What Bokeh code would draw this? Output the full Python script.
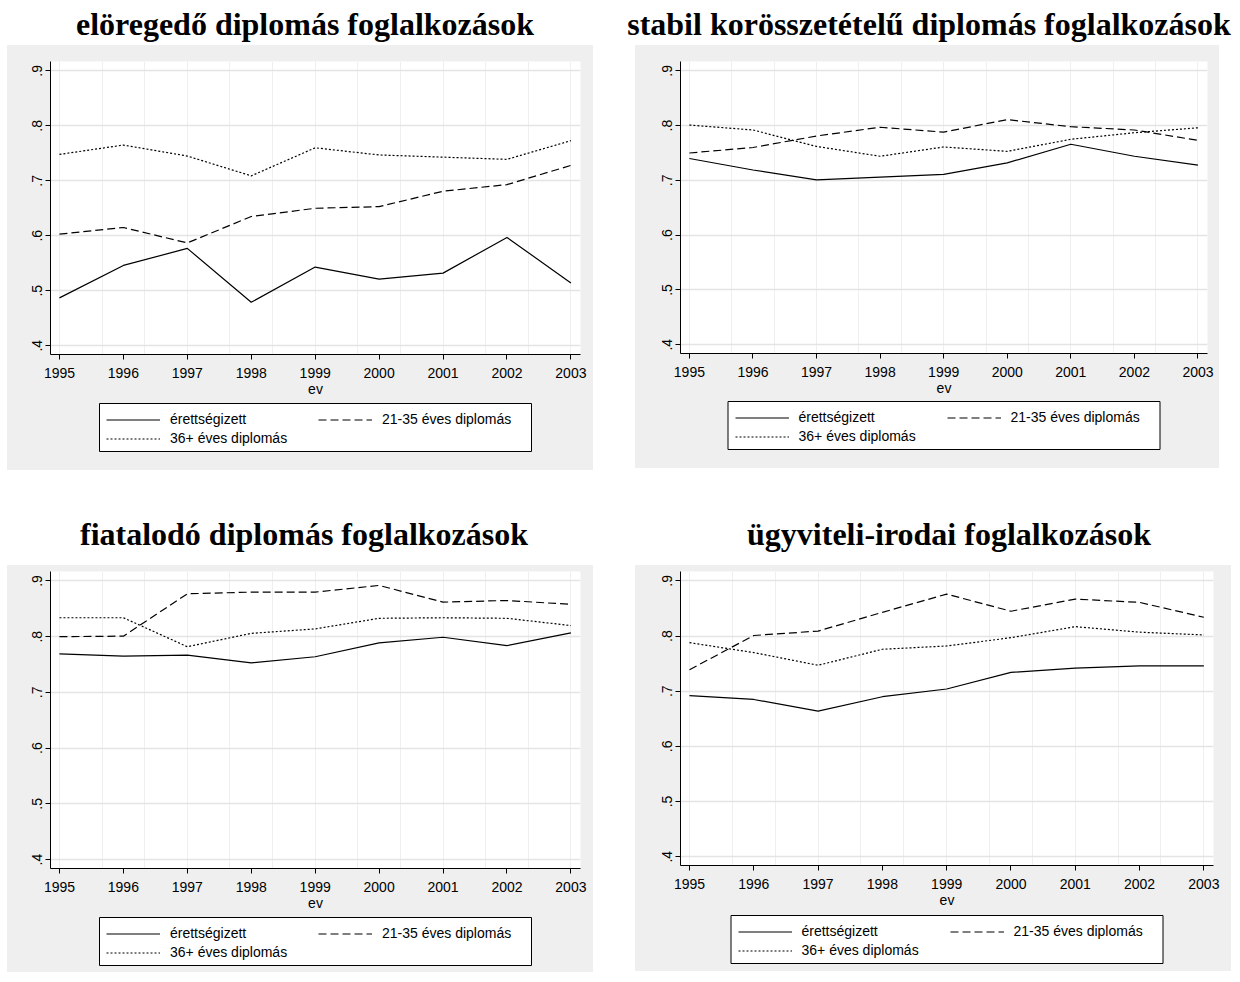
from bokeh.plotting import figure
from bokeh.models import (Range1d, FixedTicker, CustomJSTickFormatter, Legend,
                          LegendItem, Spacer, Div, BoxAnnotation)
from bokeh.layouts import column, row
from bokeh.embed import file_html
from bokeh.resources import INLINE

# ---------------- data ----------------
years = [1995, 1996, 1997, 1998, 1999, 2000, 2001, 2002, 2003]
series_labels = ["érettségizett", "21-35 éves diplomás", "36+ éves diplomás"]
y_ticks = [0.4, 0.5, 0.6, 0.7, 0.8, 0.9]
x_axis_label = "ev"

titles = ["elöregedő diplomás foglalkozások",
          "stabil korösszetételű diplomás foglalkozások",
          "fiatalodó diplomás foglalkozások",
          "ügyviteli-irodai foglalkozások"]

p1_erettsegizett = [0.487, 0.546, 0.577, 0.479, 0.543, 0.521, 0.532, 0.597, 0.514]
p1_fiatal_dipl   = [0.603, 0.615, 0.587, 0.635, 0.650, 0.653, 0.681, 0.693, 0.728]
p1_idos_dipl     = [0.748, 0.765, 0.745, 0.709, 0.760, 0.747, 0.743, 0.739, 0.773]
p2_erettsegizett = [0.740, 0.719, 0.701, 0.706, 0.711, 0.732, 0.766, 0.744, 0.728]
p2_fiatal_dipl   = [0.750, 0.760, 0.781, 0.797, 0.788, 0.811, 0.798, 0.792, 0.773]
p2_idos_dipl     = [0.801, 0.792, 0.762, 0.744, 0.761, 0.753, 0.775, 0.787, 0.796]
p3_erettsegizett = [0.769, 0.765, 0.767, 0.753, 0.764, 0.789, 0.799, 0.784, 0.807]
p3_fiatal_dipl   = [0.800, 0.801, 0.877, 0.880, 0.880, 0.892, 0.862, 0.865, 0.858]
p3_idos_dipl     = [0.834, 0.834, 0.782, 0.806, 0.814, 0.833, 0.834, 0.833, 0.820]
p4_erettsegizett = [0.692, 0.685, 0.664, 0.690, 0.704, 0.734, 0.742, 0.746, 0.746]
p4_fiatal_dipl   = [0.739, 0.801, 0.809, 0.843, 0.876, 0.845, 0.867, 0.861, 0.834]
p4_idos_dipl     = [0.788, 0.770, 0.747, 0.776, 0.782, 0.797, 0.817, 0.807, 0.802]

panel_series = [
    (p1_erettsegizett, p1_fiatal_dipl, p1_idos_dipl),
    (p2_erettsegizett, p2_fiatal_dipl, p2_idos_dipl),
    (p3_erettsegizett, p3_fiatal_dipl, p3_idos_dipl),
    (p4_erettsegizett, p4_fiatal_dipl, p4_idos_dipl),
]

GRAY = "#efefef"
SANS = "Liberation Sans"
FS = "14px"
dashes = ["solid", "8 4", "2 2"]

# plot part: (width, height, left, right, top, bottom)
plot_geom = [
    (586, 356, 43, 13, 16, 47),
    (584, 355, 45, 12, 16, 47),
    (586, 350, 43, 13, 6, 47),
    (596, 347, 45, 18, 6, 47),
]
# legend strip: (height, top, bottom); left/right same as the plot part
leg_geom = [
    (69, 1, 18),
    (68, 0, 18),
    (57, 1, 6),
    (59, 2, 7),
]
LEG_W = 432
LEG_FRAME_H = 50

x_grid_ticks = [years[0] + k * 2.0 / 3.0 for k in range(13)]


def style_legend(leg, margin):
    leg.label_text_font = SANS
    leg.label_text_font_size = FS
    leg.label_text_color = "black"
    leg.glyph_width = 54
    leg.glyph_height = 15
    leg.label_height = 15
    leg.label_standoff = 10
    leg.spacing = 6
    leg.padding = 6
    leg.margin = margin
    leg.border_line_color = None
    leg.background_fill_alpha = 0.0


def make_panel(idx):
    w, h, bl, br, bt, bb = plot_geom[idx]
    p = figure(width=w, height=h, output_backend="svg", toolbar_location=None,
               x_range=Range1d(1994.86, 2003.15), y_range=Range1d(0.384, 0.917),
               min_border_left=bl, min_border_right=br,
               min_border_top=bt, min_border_bottom=bb)
    p.border_fill_color = GRAY
    p.background_fill_color = "white"
    p.outline_line_color = None

    for vals, dash in zip(panel_series[idx], dashes):
        p.line(years, vals, line_color="black", line_width=1.2, line_dash=dash)

    xa = p.xaxis[0]
    xa.ticker = FixedTicker(ticks=years)
    xa.axis_label = x_axis_label
    ya = p.yaxis[0]
    ya.ticker = FixedTicker(ticks=y_ticks)
    ya.formatter = CustomJSTickFormatter(code="return tick.toFixed(1).replace(/^0/, '');")
    ya.major_label_orientation = "vertical"
    for ax in (xa, ya):
        ax.axis_line_color = "black"
        ax.major_tick_line_color = "black"
        ax.major_tick_out = 5
        ax.major_tick_in = 0
        ax.minor_tick_line_color = None
        ax.major_label_text_font = SANS
        ax.major_label_text_font_size = FS
        ax.major_label_text_color = "black"
        ax.axis_label_text_font = SANS
        ax.axis_label_text_font_size = FS
        ax.axis_label_text_font_style = "normal"
        ax.axis_label_text_color = "black"
    xa.major_label_standoff = 8
    xa.axis_label_standoff = 0
    ya.major_label_standoff = 3

    p.ygrid.grid_line_color = "#e4e4e4"
    p.ygrid.grid_line_width = 1.6
    p.xgrid.ticker = FixedTicker(ticks=x_grid_ticks)
    p.xgrid.grid_line_color = "#efefef"

    # ---- legend strip below the plot ----
    lh, lt, lb = leg_geom[idx]
    fw = w - bl - br
    lf = figure(width=w, height=lh, output_backend="svg", toolbar_location=None,
                x_range=Range1d(0, fw), y_range=Range1d(0, LEG_FRAME_H),
                x_axis_type=None, y_axis_type=None,
                min_border_left=bl, min_border_right=br,
                min_border_top=lt, min_border_bottom=lb)
    lf.border_fill_color = GRAY
    lf.background_fill_color = GRAY
    lf.outline_line_color = None

    # legend renderers (data lie outside this strip's ranges, so only the
    # legend samples are visible)
    rends = [lf.line(years, vals, line_color="black", line_width=1.2, line_dash=dash)
             for vals, dash in zip(panel_series[idx], dashes)]

    bx = (fw - LEG_W) / 2.0
    lf.add_layout(BoxAnnotation(left=bx, right=bx + LEG_W, bottom=1, top=LEG_FRAME_H - 1,
                                fill_color="white", fill_alpha=1.0,
                                line_color="black", line_alpha=1.0, line_width=1))

    leg_a = Legend(items=[LegendItem(label=series_labels[0], renderers=[rends[0]]),
                          LegendItem(label=series_labels[1], renderers=[rends[1]])],
                   orientation="horizontal", location="top_center", label_width=142)
    style_legend(leg_a, 9)
    leg_b = Legend(items=[LegendItem(label=series_labels[2], renderers=[rends[2]])],
                   orientation="horizontal", location="bottom_center", label_width=354)
    style_legend(leg_b, 6)
    lf.add_layout(leg_a, "center")
    lf.add_layout(leg_b, "center")

    return column(p, lf, styles={"background-color": GRAY})


def title_div(text, width, height, inner_w, inner_left, top):
    html = ('<div style="font-family:\'Liberation Serif\';font-weight:bold;'
            'font-size:32px;line-height:34px;white-space:nowrap;text-align:center;'
            f'width:{inner_w}px;margin-left:{inner_left}px;padding-top:{top}px;'
            f'color:black;">{text}</div>')
    return Div(text=html, width=width, height=height, margin=0)


tr1 = row(title_div(titles[0], 612, 38, 596, 0, 0),
          title_div(titles[1], 612, 38, 604, 8, 0))
tr2 = row(title_div(titles[2], 612, 95, 594, 0, 47),
          title_div(titles[3], 612, 95, 560, 50, 47))

c1, c2, c3, c4 = [make_panel(i) for i in range(4)]

layout = column(
    Spacer(width=10, height=7),
    row(Spacer(width=7, height=10), column(
        tr1,
        row(c1, Spacer(width=42, height=10), c2),
        tr2,
        row(c3, Spacer(width=42, height=10), c4),
    )),
)

open("out.html", "w").write(file_html(layout, INLINE))
